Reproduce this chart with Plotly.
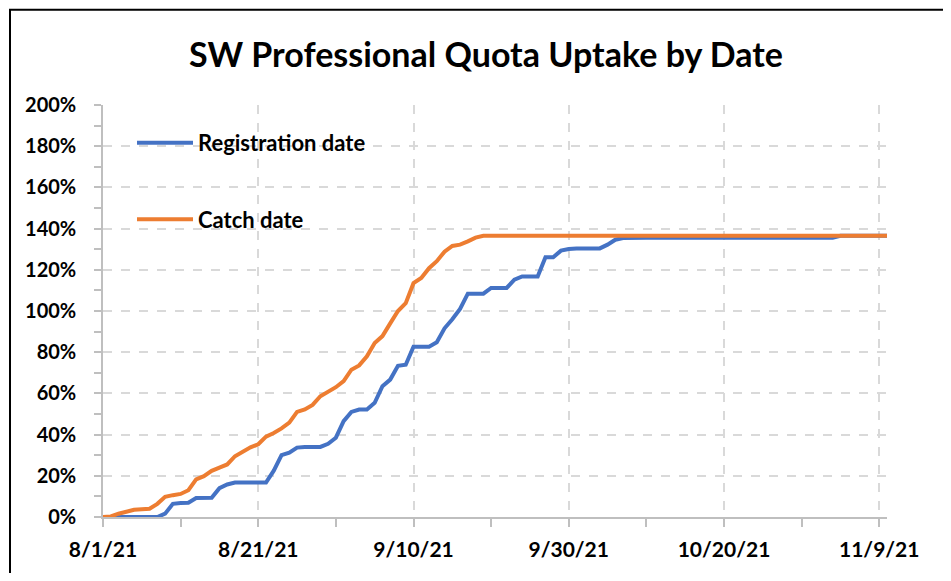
import pandas as pd
import plotly.graph_objects as go

start_date = "2021-08-01"

registration_pct = [
    0, 0, 0, 0, 0, 0, 0, 0, 1.6, 6.4,
    6.8, 6.9, 9.2, 9.2, 9.3, 14, 15.8, 16.7, 16.7, 16.7,
    16.7, 16.7, 22.5, 30, 31.2, 33.7, 34, 34, 34, 35.5,
    38.5, 46.5, 51, 52.2, 52.2, 55.4, 63.5, 66.7, 73.4, 73.9,
    82.7, 82.7, 82.7, 84.8, 91.6, 96, 101, 108.4, 108.4, 108.4,
    111.2, 111.2, 111.2, 115.2, 116.8, 116.8, 116.8, 126.1, 126.1, 129.3,
    130.1, 130.3, 130.4, 130.4, 130.4, 132.2, 134.6, 135.4, 135.6, 135.6,
    135.6, 135.6, 135.6, 135.6, 135.6, 135.6, 135.6, 135.6, 135.6, 135.6,
    135.6, 135.6, 135.6, 135.6, 135.6, 135.6, 135.6, 135.6, 135.6, 135.6,
    135.6, 135.6, 135.6, 135.6, 135.6, 136.5, 136.5, 136.5, 136.5, 136.5,
    136.5, 136.5,
]

catch_pct = [
    0, 0.3, 1.6, 2.8, 3.5, 3.8, 4.0, 6.4, 9.8, 10.6,
    11.2, 13, 18.3, 19.8, 22.4, 24, 25.5, 29.5, 31.8, 33.8,
    35.3, 39, 40.8, 43, 45.8, 51, 52.2, 54.4, 58.6, 61,
    63, 66, 71.5, 73.6, 78, 84.5, 87.8, 94, 100, 103.8,
    113.5, 116, 120.8, 124.2, 128.8, 131.6, 132.2, 133.8, 135.6, 136.5,
    136.5, 136.5, 136.5, 136.5, 136.5, 136.5, 136.5, 136.5, 136.5, 136.5,
    136.5, 136.5, 136.5, 136.5, 136.5, 136.5, 136.5, 136.5, 136.5, 136.5,
    136.5, 136.5, 136.5, 136.5, 136.5, 136.5, 136.5, 136.5, 136.5, 136.5,
    136.5, 136.5, 136.5, 136.5, 136.5, 136.5, 136.5, 136.5, 136.5, 136.5,
    136.5, 136.5, 136.5, 136.5, 136.5, 136.5, 136.5, 136.5, 136.5, 136.5,
    136.5, 136.5,
]

series_names = ["Registration date", "Catch date"]
title_text = "SW Professional Quota Uptake by Date"

dates = pd.date_range(start_date, periods=len(catch_pct), freq="D")

FONT = "Lato"
BLUE = "#4472C4"
ORANGE = "#ED7D31"
GRID = "#d9d9d9"
AXIS = "#bfbfbf"

fig = go.Figure()
fig.add_trace(go.Scatter(x=dates, y=registration_pct, mode="lines",
                         name="<b>" + series_names[0] + "</b>", legendgroup="a",
                         line=dict(color=BLUE, width=4)))
fig.add_trace(go.Scatter(x=dates, y=catch_pct, mode="lines",
                         name="<b>" + series_names[1] + "</b>", legendgroup="b",
                         line=dict(color=ORANGE, width=4)))

# page has an 8px body margin; figure coordinates are page - 8
W, H = 935, 565
L, T = 95, 97
PR, PB = 879, 512
R, B = W - PR, H - PB
pw, ph = PR - L, PB - T


def px_x(x):
    return (x - L) / pw


def px_y(y):
    return (PB - y) / ph


fig.update_layout(
    width=W, height=H,
    margin=dict(l=L, r=R, t=T, b=B),
    paper_bgcolor="white", plot_bgcolor="white",
    font=dict(family=FONT, color="black", size=18),
    title=dict(text="<b>" + title_text + "</b>", x=478 / W, xanchor="center",
               y=1 - 47 / H, yanchor="middle", xref="container", yref="container",
               font=dict(family=FONT, size=34, color="black")),
    showlegend=True,
    legend=dict(x=px_x(124), y=px_y(114), xanchor="left", yanchor="top",
                bgcolor="rgba(0,0,0,0)", tracegroupgap=45, itemwidth=56,
                font=dict(family=FONT, size=22, color="black")),
    xaxis=dict(
        type="date",
        range=["2021-08-01", "2021-11-10"],
        tickformat="<b>%-m/%-d/%y</b>",
        tick0="2021-08-01", dtick=20 * 86400000,
        showgrid=True, gridcolor=GRID, griddash="dash", gridwidth=1.5,
        showline=True, linecolor=AXIS, linewidth=1.5,
        ticks="outside", ticklen=8, tickcolor=AXIS, tickwidth=1.5,
        minor=dict(dtick=10 * 86400000, tick0="2021-08-01", ticks="outside",
                   ticklen=8, tickcolor=AXIS, tickwidth=1.5, showgrid=False),
        tickfont=dict(family=FONT, size=21, color="black"),
        ticklabelstandoff=5,
        zeroline=False,
    ),
    yaxis=dict(
        range=[0, 200], dtick=20, tick0=0,
        ticksuffix="%",
        showgrid=True, gridcolor=GRID, griddash="dash", gridwidth=1.5,
        showline=True, linecolor=AXIS, linewidth=1.5,
        ticks="outside", ticklen=7, tickcolor=AXIS, tickwidth=1.5,
        minor=dict(dtick=10, ticks="outside", ticklen=7, tickcolor=AXIS,
                   tickwidth=1.5, showgrid=False),
        tickfont=dict(family=FONT, size=20, color="black"),
        tickprefix="<b>",
        ticklabelstandoff=14,
        zeroline=False,
    ),
    shapes=[
        dict(type="rect", xref="paper", yref="paper",
             x0=px_x(2), x1=px_x(980), y0=px_y(620), y1=px_y(1),
             line=dict(color="black", width=2), fillcolor="rgba(0,0,0,0)",
             layer="above"),
    ],
)

fig.write_html("out.html")
